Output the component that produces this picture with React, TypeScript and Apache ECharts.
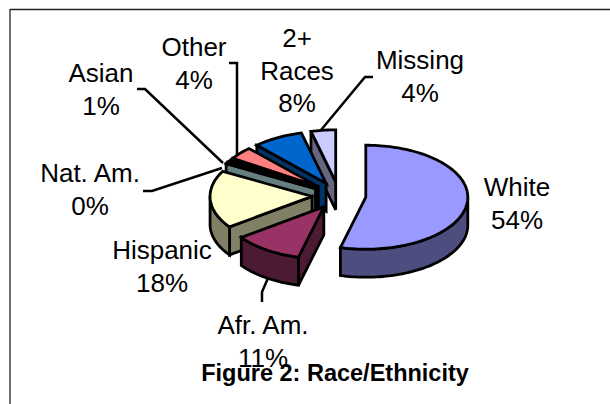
import React, { useEffect, useRef } from "react";
import * as echarts from "echarts";

const categories = ["White", "Afr. Am.", "Hispanic", "Nat. Am.", "Asian", "Other", "2+ Races", "Missing"];
const shares = [54, 11, 18, 0.4, 0.8, 3.9, 8, 3.9];
const topColors = ["#9999FF", "#993366", "#FFFFCC", "#CCFFFF", "#660066", "#FF8080", "#0066CC", "#CCCCFF"];
const sideColors = ["#4D4D80", "#4D1A33", "#808066", "#668080", "#330033", "#804040", "#003366", "#666680"];
const labelLines = [["White"], ["Afr. Am."], ["Hispanic"], ["Nat. Am."], ["Asian"], ["Other"], ["2+", "Races"], ["Missing"]];
const labelCenters = [[517, 187], [263, 325], [162, 250], [90, 173], [101, 73], [194, 47], [297, 38], [420, 60]];
const leaders = [
  [[268, 278], [262, 292], [262, 302]],
  [[143, 191], [152, 191], [222, 168]],
  [[137, 89], [145, 89], [223, 163]],
  [[229, 63], [237, 63], [237, 155]],
  [[373, 77], [365, 77], [321, 130]],
];

const CX = 339, CY = 195.5, RX = 102, RY = 52, DEPTH = 28, EXPLODE = 27;
const FONT = "26px 'Liberation Sans', Arial, sans-serif";
const LINE_H = 32.5;

const total = shares.reduce((a, b) => a + b, 0);
const rad = (v: number) => (v / total) * Math.PI * 2;

function renderSlice(params: any, api: any) {
  const i = params.dataIndex;
  const before = shares.slice(0, i).reduce((a, b) => a + b, 0);
  const a0 = rad(before);
  const a1 = a0 + rad(api.value(0));
  const mid = (a0 + a1) / 2;
  const tx = CX + EXPLODE * Math.sin(mid);
  const ty = CY - EXPLODE * Math.cos(mid) * (RY / RX);
  const pt = (a: number, dy = 0) => [tx + RX * Math.sin(a), ty - RY * Math.cos(a) + dy];
  const arc = (s: number, e: number, dy = 0) => {
    const n = Math.max(2, Math.ceil((e - s) / 0.03));
    const out: number[][] = [];
    for (let k = 0; k <= n; k++) out.push(pt(s + ((e - s) * k) / n, dy));
    return out;
  };
  const z2 = (shares.length - i) * 10;
  const common = { lineWidth: 2.8, stroke: "#000", lineJoin: "miter", miterLimit: 4 };
  const children: any[] = [];
  const face = (points: number[][], fill: string, z: number) =>
    children.push({ type: "polygon", z2: z2 + z, shape: { points }, style: { ...common, fill } });
  if (Math.sin(a0) < -1e-6) face([[tx, ty], pt(a0), pt(a0, DEPTH), [tx, ty + DEPTH]], sideColors[i], 1);
  if (Math.sin(a1) > 1e-6) face([[tx, ty], pt(a1), pt(a1, DEPTH), [tx, ty + DEPTH]], sideColors[i], 1);
  const s = Math.max(a0, Math.PI / 2), e = Math.min(a1, (Math.PI * 3) / 2);
  if (e > s) face([...arc(s, e), ...arc(s, e, DEPTH).reverse()], sideColors[i], 2);
  face([[tx, ty], ...arc(a0, a1)], topColors[i], 3);
  return { type: "group", children };
}

export default function App() {
  const ref = useRef<HTMLDivElement>(null);
  useEffect(() => {
    const chart = echarts.init(ref.current!, null, { renderer: "svg" });
    const texts: any[] = [];
    categories.forEach((_, i) => {
      const lines = [...labelLines[i], `${Math.round(shares[i])}%`];
      lines.forEach((t, k) => {
        texts.push({
          type: "text",
          z: 5,
          x: labelCenters[i][0],
          y: labelCenters[i][1] + k * LINE_H,
          style: { text: t, font: FONT, fill: "#000", align: "center", textAlign: "center", verticalAlign: "middle", textVerticalAlign: "middle" },
        });
      });
    });
    chart.setOption({
      animation: false,
      backgroundColor: "#fff",
      graphic: [
        { type: "line", z: 1, shape: { x1: 10, y1: 9.5, x2: 610, y2: 9.5 }, style: { stroke: "#222", lineWidth: 1.3 } },
        { type: "line", z: 1, shape: { x1: 10, y1: 9, x2: 10, y2: 404 }, style: { stroke: "#222", lineWidth: 1.3 } },
        ...leaders.map((points) => ({ type: "polyline", z: 4, shape: { points }, style: { stroke: "#000", lineWidth: 2.5, fill: "none" } })),
        ...texts,
        {
          type: "text",
          z: 6,
          x: 335,
          y: 373,
          style: { text: "Figure 2: Race/Ethnicity", font: "bold 23.5px 'Liberation Sans', Arial, sans-serif", fill: "#000", align: "center", textAlign: "center", verticalAlign: "middle", textVerticalAlign: "middle" },
        },
      ],
      series: [
        {
          type: "custom",
          coordinateSystem: "none",
          clip: false,
          renderItem: renderSlice,
          data: shares.map((v, i) => ({ name: categories[i], value: [v] })),
        },
      ],
    });
    return () => chart.dispose();
  }, []);
  return <div ref={ref} style={{ position: "absolute", left: 0, top: 0, width: 610, height: 404 }} />;
}
